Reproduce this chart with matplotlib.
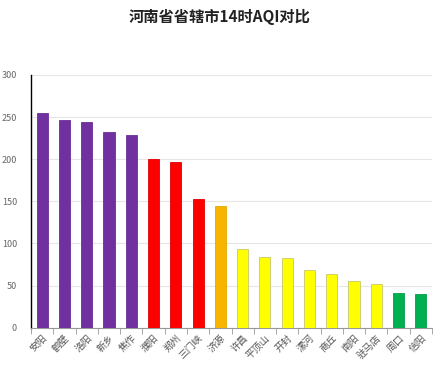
import matplotlib
matplotlib.use('Agg')
import matplotlib.pyplot as plt
import numpy as np

plt.rcParams['font.family'] = ['Noto Sans CJK SC', 'DejaVu Sans']

# data
cities = ['安阳', '鹤壁', '洛阳', '新乡', '焦作', '濮阳', '郑州', '三门峡', '济源',
          '许昌', '平顶山', '开封', '漯河', '商丘', '南阳', '驻马店', '周口', '信阳']
aqi = [255, 246, 244, 232, 229, 200, 197, 153, 145,
       93, 84, 83, 68, 64, 56, 52, 41, 40]
levels = ['heavy'] * 5 + ['severe'] * 3 + ['moderate'] + ['light'] * 7 + ['good'] * 2

level_colors = {'heavy': '#7030A0', 'severe': '#FF0000', 'moderate': '#F7B500',
                'light': '#FFFF00', 'good': '#00B050'}
edge_colors = {'heavy': '#6A2E96', 'severe': '#E00000', 'moderate': '#E0A800',
               'light': '#C8C870', 'good': '#00A048'}

fig = plt.figure(figsize=(4.4, 3.67), dpi=100)
ax = fig.add_axes([31 / 440, (367 - 327.7) / 367, 401 / 440, (327.7 - 75) / 367])

x = np.arange(len(cities))
ax.bar(x, aqi, width=0.5,
       color=[level_colors[l] for l in levels],
       edgecolor=[edge_colors[l] for l in levels], linewidth=0.6, zorder=3)

ax.set_xlim(-0.5, len(cities) - 0.5)
ax.set_ylim(0, 300)
ax.set_yticks(range(0, 301, 50))
ax.grid(axis='y', color='#E6E6E6', linewidth=0.8, zorder=0)

ax.set_xticks(x)
ax.set_xticklabels(cities, rotation=45, ha='right', rotation_mode='anchor',
                   fontsize=7, color='#555555')
ax.set_xticks(np.arange(-0.5, len(cities), 1), minor=True)
ax.tick_params(axis='x', which='major', length=0, pad=4)
ax.tick_params(axis='x', which='minor', length=4, color='#999999')
ax.tick_params(axis='y', length=0, labelsize=6.5, labelcolor='#666666', pad=10)

for s in ['top', 'right']:
    ax.spines[s].set_visible(False)
ax.spines['left'].set_color('#000000')
ax.spines['left'].set_linewidth(1.0)
ax.spines['bottom'].set_color('#999999')
ax.spines['bottom'].set_linewidth(0.8)

fig.text(0.5, 0.955, '河南省省辖市14时AQI对比', ha='center', va='center',
         fontsize=11, fontweight='bold', color='#222222')

fig.savefig('out.png', dpi=100)
